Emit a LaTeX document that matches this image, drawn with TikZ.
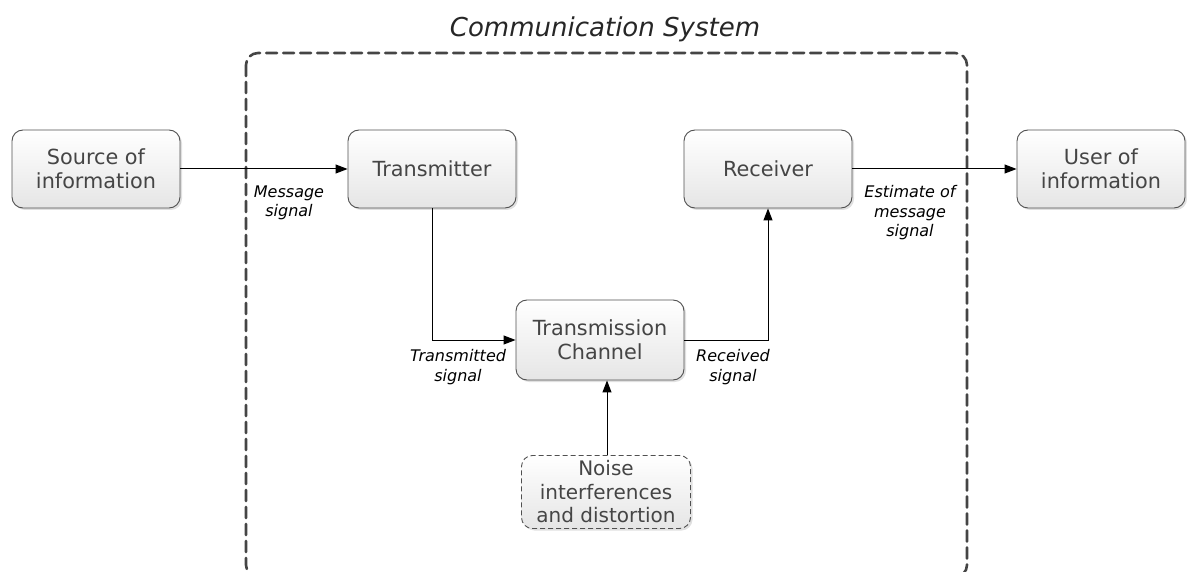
\documentclass[tikz,border=0pt]{standalone}
\usepackage{fontspec}
\setmainfont{DejaVu Sans}
\usetikzlibrary{arrows.meta,shadows,positioning}

\definecolor{boxline}{HTML}{505050}
\definecolor{boxtext}{HTML}{454545}
\definecolor{frameline}{HTML}{454545}

\tikzset{
  block/.style={draw=boxline, line width=0.9pt, rounded corners=11pt,
    minimum width=168pt, minimum height=78pt, align=center,
    top color=white, bottom color=black!10, text=boxtext,
    font=\fontsize{20.8}{24}\selectfont, inner sep=2pt,
    drop shadow={shadow xshift=2pt, shadow yshift=-2pt, fill=black!35, opacity=0.35}},
  noiseblock/.style={block, dashed, dash pattern=on 5pt off 3pt,
    minimum height=73pt, minimum width=169pt,
    font=\fontsize{20}{23.5}\selectfont},
  sig/.style={font=\itshape\fontsize{16}{19.5}\selectfont, align=center, text=black, inner sep=0pt},
  link/.style={draw=black, line width=1pt, -{Triangle[length=12pt, width=9pt]}},
  sysframe/.style={draw=frameline, line width=2.6pt, rounded corners=12pt,
    dash pattern=on 11pt off 6pt, line cap=round}
}

\begin{document}
\begin{tikzpicture}[x=1pt, y=-1pt]
  \useasboundingbox (0,0) rectangle (1187,572);

  % system boundary
  \draw[sysframe] (246,53) rectangle (967,577);
  \node[font=\itshape\fontsize{26}{30}\selectfont, text=black!85] (title) at (605,29) {Communication System};

  % blocks
  \node[block] (src) at (96,169) {Source of\\information};
  \node[block] (tx) at (432,169) {Transmitter};
  \node[block] (rx) at (768,169) {Receiver};
  \node[block] (usr) at (1101,169) {User of\\information};
  \node[block, minimum height=80pt] (ch) at (600,340) {Transmission\\Channel};
  \node[noiseblock] (noise) at (606,492) {Noise\\interferences\\and distortion};

  % connectors
  \draw[link] (src.east) -- (tx.west);
  \draw[link] (tx.south) |- (ch.west);
  \draw[link] (ch.east) -| (rx.south);
  \draw[link] (rx.east) -- (usr.west);
  \draw[link] (noise.north -| 607,0) -- (ch.south -| 607,0);

  % signal labels
  \node[sig] (lmsg) at (289,203) {Message\\signal};
  \node[sig] (ltx) at (458,367) {Transmitted\\signal};
  \node[sig] (lrx) at (733,367) {Received\\signal};
  \node[sig] (lest) at (910,213) {Estimate of\\message\\signal};
\end{tikzpicture}
\end{document}
